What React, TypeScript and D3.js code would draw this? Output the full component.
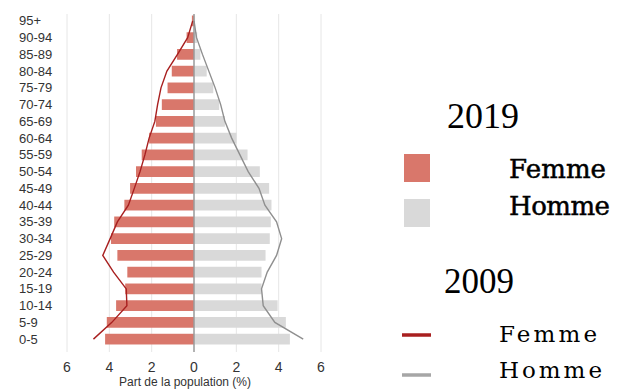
import React from "react";
import * as d3 from "d3";

const ageGroups = ["95+", "90-94", "85-89", "80-84", "75-79", "70-74", "65-69", "60-64", "55-59", "50-54", "45-49", "40-44", "35-39", "30-34", "25-29", "20-24", "15-19", "10-14", "5-9", "0-5"];
const female2019 = [0.1, 0.35, 0.8, 1.05, 1.25, 1.52, 1.8, 2.12, 2.47, 2.74, 3.02, 3.29, 3.77, 3.92, 3.62, 3.15, 3.25, 3.68, 4.12, 4.2];
const male2019 = [0.05, 0.15, 0.3, 0.6, 0.91, 1.19, 1.46, 2.01, 2.53, 3.11, 3.55, 3.66, 3.63, 3.58, 3.38, 3.19, 3.19, 3.95, 4.34, 4.53];
const female2009 = [0.06, 0.3, 0.78, 1.28, 1.56, 1.72, 1.85, 2.12, 2.32, 2.55, 2.82, 3.1, 3.62, 3.96, 4.31, 3.8, 3.2, 3.17, 3.88, 4.75];
const male2009 = [0.0, 0.12, 0.4, 0.7, 1.0, 1.26, 1.46, 1.78, 2.17, 2.56, 3.07, 3.35, 3.9, 4.14, 3.9, 3.46, 3.19, 3.27, 3.82, 5.16];
const xTicks = [-6, -4, -2, 0, 2, 4, 6];
const axisTitle = "Part de la population (%)";
const legendYears = ["2019", "2009"];
const legendLabels = ["Femme", "Homme"];

const W = 618;
const H = 390;

export default function App() {
  const x = d3.scaleLinear().domain([-6, 6]).range([67, 321]);
  const y = d3.scaleBand<string>().domain(ageGroups).range([12.5, 347.5]).paddingInner(0.36).paddingOuter(0.18);
  const yc = (a: string) => (y(a) as number) + y.bandwidth() / 2;

  const femaleLine = d3.line<number>().x((v) => x(-v)).y((_, i) => yc(ageGroups[i]));
  const maleLine = d3.line<number>().x((v) => x(v)).y((_, i) => yc(ageGroups[i]));

  const sans = "'Liberation Sans', Arial, sans-serif";
  const serif = "'Liberation Serif', 'Times New Roman', serif";
  const wideSerif = "'DejaVu Serif', serif";

  return (
    <div style={{ position: "absolute", left: 0, top: 0 }}>
      <svg width={W} height={H} style={{ display: "block", background: "#fff" }}>
        {xTicks.filter((t) => t !== 0).map((t) => (
          <line key={"g" + t} x1={x(t)} x2={x(t)} y1={14} y2={352} stroke="#e6e6e6" strokeWidth={1} />
        ))}
        {ageGroups.map((a, i) => (
          <g key={a}>
            <rect x={x(-female2019[i])} y={y(a)} width={x(0) - x(-female2019[i])} height={y.bandwidth()} fill="#d9776b" />
            <rect x={x(0)} y={y(a)} width={x(male2019[i]) - x(0)} height={y.bandwidth()} fill="#d9d9d9" />
            <text x={19} y={yc(a)} dy="0.35em" fontFamily={sans} fontSize={13} fill="#333">{a}</text>
          </g>
        ))}
        <line x1={x(0)} x2={x(0)} y1={14} y2={352} stroke="#9a9a9a" strokeWidth={1.5} />
        <path d={femaleLine(female2009) || ""} fill="none" stroke="#a81f1f" strokeWidth={1.4} />
        <path d={maleLine(male2009) || ""} fill="none" stroke="#8f8f8f" strokeWidth={1.4} />
        {xTicks.map((t) => (
          <text key={"t" + t} x={x(t)} y={372} textAnchor="middle" fontFamily={sans} fontSize={14} fill="#333">{Math.abs(t)}</text>
        ))}
        <text x={185} y={386} textAnchor="middle" fontFamily={sans} fontSize={12} fill="#333">{axisTitle}</text>

        {/* Legend 2019 */}
        <text x={447} y={128} fontFamily={serif} fontSize={36} fill="#000">{legendYears[0]}</text>
        <rect x={404} y={154} width={26} height={28} fill="#d9776b" />
        <rect x={404} y={199} width={26} height={28} fill="#d9d9d9" />
        <text x={509} y={178} fontFamily={wideSerif} fontSize={26} fill="#000" stroke="#000" strokeWidth={0.5} textLength={97} lengthAdjust="spacing">{legendLabels[0]}</text>
        <text x={509} y={215} fontFamily={wideSerif} fontSize={26} fill="#000" stroke="#000" strokeWidth={0.5} textLength={101} lengthAdjust="spacing">{legendLabels[1]}</text>

        {/* Legend 2009 */}
        <text x={444} y={293} fontFamily={serif} fontSize={35} fill="#000">{legendYears[1]}</text>
        <line x1={402} x2={431} y1={335} y2={335} stroke="#a81f1f" strokeWidth={3.5} />
        <line x1={402} x2={431} y1={375} y2={375} stroke="#a6a6a6" strokeWidth={3.5} />
        <text x={499} y={342} fontFamily={wideSerif} fontSize={23} fill="#000" textLength={98} lengthAdjust="spacing">{legendLabels[0]}</text>
        <text x={499} y={378} fontFamily={wideSerif} fontSize={23} fill="#000" textLength={103} lengthAdjust="spacing">{legendLabels[1]}</text>
      </svg>
    </div>
  );
}
